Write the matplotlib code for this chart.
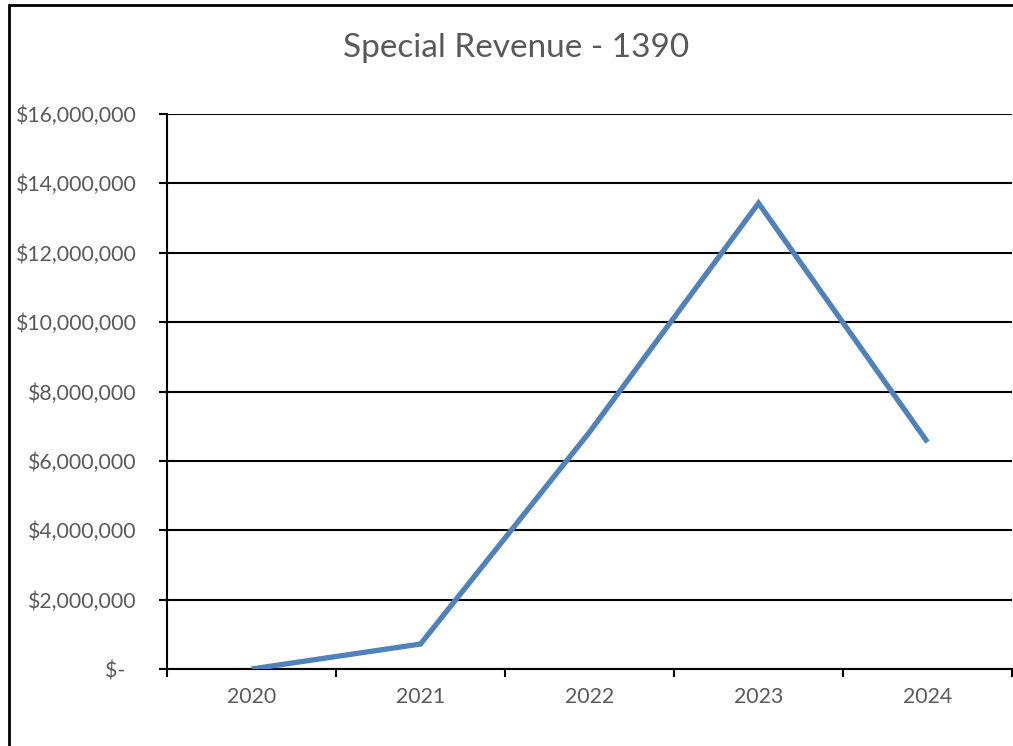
import matplotlib.pyplot as plt
from matplotlib.patches import Rectangle
from matplotlib.ticker import FuncFormatter, FixedLocator

# data
years = ["2020", "2021", "2022", "2023", "2024"]
revenue = [0, 720000, 6830000, 13430000, 6540000]
y_ticks = list(range(0, 16000001, 2000000))

plt.rcParams['font.family'] = ['Lato', 'DejaVu Sans']
text_grey = "#595959"

fig = plt.figure(figsize=(10.13, 7.46), dpi=100)
W, H = 1013, 746
ax = fig.add_axes([167 / W, 1 - 669 / H, (1012 - 167) / W, (669 - 114) / H])

# outer chart border (cropped screenshot: only left and top visible)
fig.patches.append(Rectangle((9 / W, -0.2), 1.2, 1 - 5 / H + 0.2,
                             transform=fig.transFigure, fill=False,
                             edgecolor="black", linewidth=2))

xs = list(range(len(years)))
ax.plot(xs, revenue, color="#4F81BD", linewidth=3.8, solid_joinstyle="miter",
        solid_capstyle="butt", zorder=3)

ax.set_xlim(-0.5, len(years) - 0.5)
ax.set_ylim(0, 16000000)

ax.set_yticks(y_ticks)
ax.yaxis.set_major_formatter(FuncFormatter(
    lambda v, p: "$-  " if v == 0 else "${:,.0f}".format(v)))
ax.grid(axis="y", color="black", linewidth=1.5)
ax.set_axisbelow(True)

ax.xaxis.set_major_locator(FixedLocator([i - 0.5 for i in range(len(years) + 1)]))
ax.xaxis.set_major_formatter(FuncFormatter(lambda v, p: ""))
ax.xaxis.set_minor_locator(FixedLocator(xs))
ax.set_xticklabels(years, minor=True)
ax.tick_params(axis="x", which="major", length=6, width=1.5, color="black")
ax.tick_params(axis="x", which="minor", length=0, pad=13, labelsize=15.3, labelcolor=text_grey)
ax.tick_params(axis="y", length=6, width=1.5, color="black", pad=16,
               labelsize=15.3, labelcolor=text_grey)

for s in ["top", "right"]:
    ax.spines[s].set_visible(False)
ax.spines["left"].set_linewidth(1.5)
ax.spines["bottom"].set_linewidth(1.5)

fig.text(516 / W, 1 - 48 / H, "Special Revenue - 1390", ha="center", va="center",
         fontsize=24, color=text_grey)

fig.savefig("out.png", dpi=100)
